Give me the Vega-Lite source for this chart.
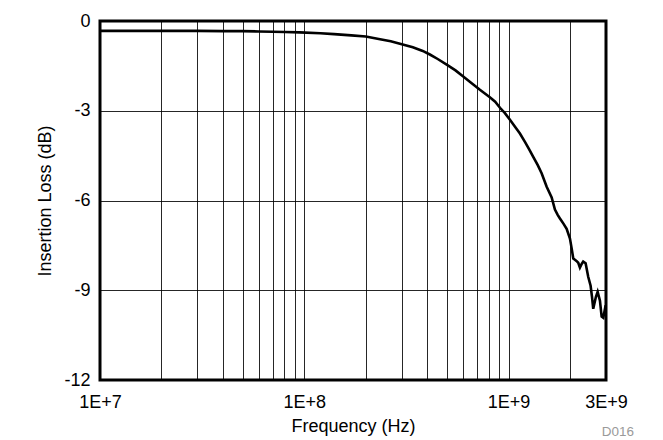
{
  "$schema": "https://vega.github.io/schema/vega-lite/v6.json",
  "width": 506,
  "height": 359,
  "autosize": {"type": "none"},
  "padding": {"left": 100, "top": 21, "right": 57, "bottom": 60},
  "background": "white",
  "title": {
    "text": "D016",
    "orient": "bottom",
    "anchor": "end",
    "frame": "group",
    "fontSize": 13.5,
    "fontWeight": "normal",
    "font": "Liberation Sans",
    "color": "#9a9a9a",
    "dx": 28,
    "dy": -14
  },
  "data": {
    "values": [
      {"f": 1e7, "il": -0.33},
      {"f": 1.5e7, "il": -0.33},
      {"f": 2e7, "il": -0.33},
      {"f": 3e7, "il": -0.33},
      {"f": 4e7, "il": -0.34},
      {"f": 5e7, "il": -0.34},
      {"f": 6e7, "il": -0.35},
      {"f": 7e7, "il": -0.36},
      {"f": 8e7, "il": -0.37},
      {"f": 9.5e7, "il": -0.38},
      {"f": 1.2e8, "il": -0.41},
      {"f": 1.4e8, "il": -0.44},
      {"f": 1.7e8, "il": -0.48},
      {"f": 2.0e8, "il": -0.52},
      {"f": 2.35e8, "il": -0.61},
      {"f": 2.65e8, "il": -0.68},
      {"f": 2.94e8, "il": -0.76},
      {"f": 3.4e8, "il": -0.88},
      {"f": 3.8e8, "il": -1.0},
      {"f": 4.12e8, "il": -1.12},
      {"f": 4.5e8, "il": -1.27},
      {"f": 4.98e8, "il": -1.46},
      {"f": 5.5e8, "il": -1.65},
      {"f": 5.98e8, "il": -1.85},
      {"f": 6.6e8, "il": -2.08},
      {"f": 7.24e8, "il": -2.3},
      {"f": 8.1e8, "il": -2.55},
      {"f": 8.6e8, "il": -2.7},
      {"f": 9.08e8, "il": -2.9},
      {"f": 9.6e8, "il": -3.08},
      {"f": 1.016e9, "il": -3.3},
      {"f": 1.08e9, "il": -3.55},
      {"f": 1.137e9, "il": -3.76},
      {"f": 1.203e9, "il": -4.04},
      {"f": 1.26e9, "il": -4.28},
      {"f": 1.321e9, "il": -4.54},
      {"f": 1.39e9, "il": -4.82},
      {"f": 1.452e9, "il": -5.09},
      {"f": 1.537e9, "il": -5.54},
      {"f": 1.626e9, "il": -5.9},
      {"f": 1.687e9, "il": -6.3},
      {"f": 1.74e9, "il": -6.48},
      {"f": 1.785e9, "il": -6.6},
      {"f": 1.86e9, "il": -6.78},
      {"f": 1.925e9, "il": -6.95},
      {"f": 1.998e9, "il": -7.27},
      {"f": 2.037e9, "il": -7.6},
      {"f": 2.074e9, "il": -7.94},
      {"f": 2.113e9, "il": -7.98},
      {"f": 2.15e9, "il": -8.02},
      {"f": 2.194e9, "il": -8.08},
      {"f": 2.236e9, "il": -8.24},
      {"f": 2.28e9, "il": -8.12},
      {"f": 2.32e9, "il": -8.04},
      {"f": 2.384e9, "il": -8.1},
      {"f": 2.455e9, "il": -8.55},
      {"f": 2.522e9, "il": -8.85},
      {"f": 2.56e9, "il": -9.2},
      {"f": 2.598e9, "il": -9.62},
      {"f": 2.678e9, "il": -9.22},
      {"f": 2.73e9, "il": -9.05},
      {"f": 2.802e9, "il": -9.35},
      {"f": 2.856e9, "il": -9.88},
      {"f": 2.908e9, "il": -9.92},
      {"f": 2.95e9, "il": -9.7},
      {"f": 2.988e9, "il": -9.5}
    ]
  },
  "mark": {"type": "line", "color": "black", "strokeWidth": 2.6, "interpolate": "linear"},
  "encoding": {
    "x": {
      "field": "f",
      "type": "quantitative",
      "scale": {"type": "log", "domain": [1e7, 3e9], "nice": false},
      "axis": {
        "title": "Frequency (Hz)",
        "values": [1e7, 2e7, 3e7, 4e7, 5e7, 6e7, 7e7, 8e7, 9e7, 1e8, 2e8, 3e8, 4e8, 5e8, 6e8, 7e8, 8e8, 9e8, 1e9, 2e9, 3e9],
        "labelExpr": "datum.value == 1e7 ? '1E+7' : datum.value == 1e8 ? '1E+8' : datum.value == 1e9 ? '1E+9' : datum.value == 3e9 ? '3E+9' : ''",
        "grid": true,
        "ticks": false,
        "domain": false,
        "labelFlush": false,
        "labelPadding": 13,
        "labelBaseline": "top",
        "titleY": 51,
        "titleBaseline": "alphabetic"
      }
    },
    "y": {
      "field": "il",
      "type": "quantitative",
      "scale": {"domain": [-12, 0], "nice": false, "zero": false},
      "axis": {
        "title": "Insertion Loss (dB)",
        "values": [-12, -9, -6, -3, 0],
        "labelExpr": "datum.value == 0 ? '0' : '-' + abs(datum.value)",
        "grid": true,
        "ticks": false,
        "domain": false,
        "labelFlush": false,
        "labelPadding": 10,
        "labelBaseline": "middle",
        "titleX": -50,
        "titleBaseline": "alphabetic"
      }
    }
  },
  "config": {
    "font": "Liberation Sans",
    "view": {"stroke": "black", "strokeWidth": 3},
    "axis": {
      "labelFont": "Liberation Sans",
      "titleFont": "Liberation Sans",
      "labelFontSize": 18,
      "titleFontSize": 18,
      "titleFontWeight": "normal",
      "labelColor": "black",
      "titleColor": "black",
      "gridColor": "black",
      "gridOpacity": 0.85,
      "gridWidth": 1,
      "labelOverlap": false
    }
  }
}
